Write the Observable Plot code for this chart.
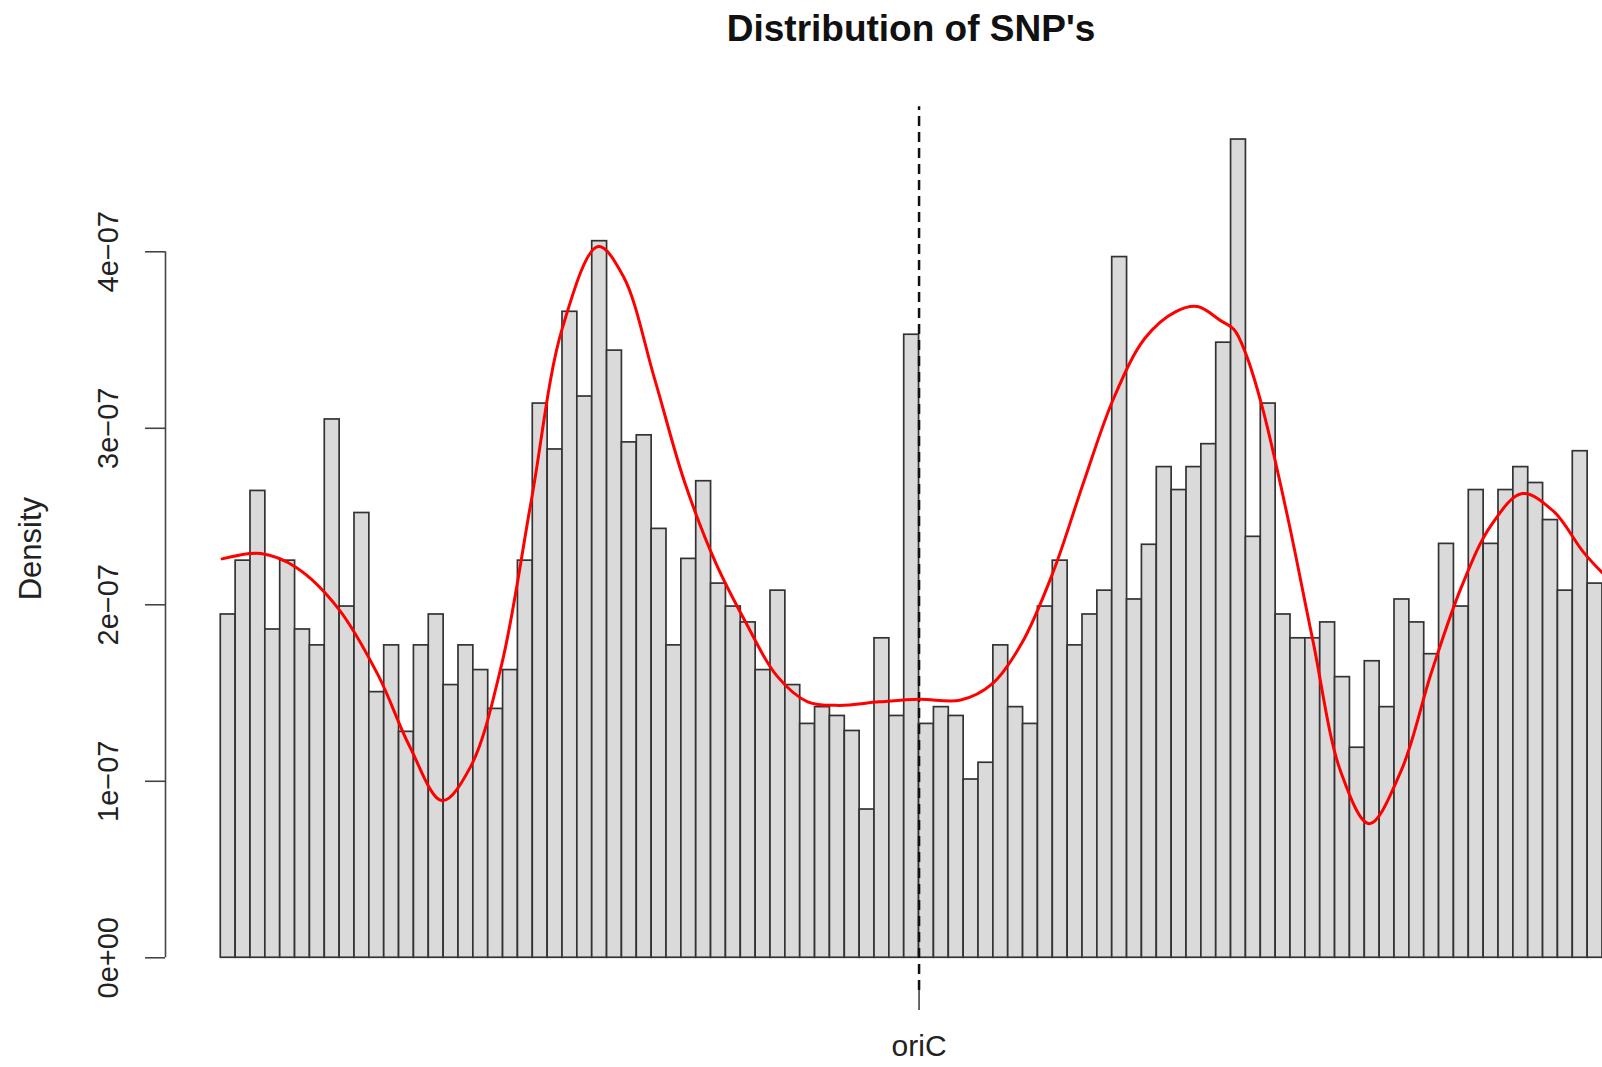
<!DOCTYPE html>
<html>
<head>
<meta charset="utf-8">
<script src="https://cdn.jsdelivr.net/npm/d3@7"></script>
<script src="https://cdn.jsdelivr.net/npm/@observablehq/plot@0.6"></script>
<style>
  html, body { margin: 0; padding: 0; background: #fff; }
  body { width: 1602px; height: 1067px; overflow: hidden; position: relative; font-family: "Liberation Sans", Arial, Helvetica, sans-serif; }
  #title { position: absolute; left: 911px; top: 11px; transform: translateX(-50%); font-weight: bold; font-size: 37px; line-height: 35px; white-space: nowrap; color: #111; }
  #chart { position: absolute; left: 0; top: 70px; }
</style>
</head>
<body>
<div id="title">Distribution of SNP's</div>
<div id="chart"></div>
<script>
// Histogram of SNP positions along the genome (50 kb bins), density scale in units of 1e-07.
const binWidth = 50000;
const binDensityE7 = [
  1.945, 2.25, 2.645, 1.86, 2.25, 1.86, 1.77, 3.05, 1.99, 2.52,
  1.505, 1.77, 1.28, 1.77, 1.945, 1.545, 1.77, 1.63, 1.41, 1.63,
  2.25, 3.14, 2.88, 3.66, 3.18, 4.06, 3.44, 2.92, 2.96, 2.43,
  1.77, 2.26, 2.70, 2.12, 1.99, 1.90, 1.63, 2.08, 1.545, 1.325,
  1.42, 1.37, 1.285, 0.84, 1.81, 1.37, 3.53, 1.325, 1.42, 1.37,
  1.01, 1.105, 1.77, 1.42, 1.325, 1.99, 2.25, 1.77, 1.945, 2.08,
  3.97, 2.03, 2.34, 2.78, 2.65, 2.78, 2.91, 3.485, 4.636, 2.385,
  3.14, 1.945, 1.81, 1.81, 1.90, 1.59, 1.19, 1.68, 1.42, 2.03,
  1.90, 1.72, 2.345, 1.99, 2.65, 2.345, 2.65, 2.78, 2.69, 2.48,
  2.08, 2.87, 2.12
];

// Kernel density estimate (red curve): position in Mb, density in 1e-07.
const kdePosMb = [
  0.0045, 0.135, 0.255, 0.395, 0.53, 0.635, 0.745, 0.84, 0.945, 1.045,
  1.15, 1.27, 1.355, 1.46, 1.56, 1.665, 1.77, 1.87, 1.975, 2.08,
  2.215, 2.35, 2.49, 2.595, 2.695, 2.80, 2.905, 3.005, 3.11, 3.2125,
  3.2875, 3.365, 3.41, 3.45, 3.505, 3.59, 3.675, 3.77, 3.865, 3.97,
  4.075, 4.175, 4.275, 4.38, 4.485, 4.585, 4.65
];
const kdeDensityE7 = [
  2.26, 2.29, 2.21, 1.98, 1.60, 1.20, 0.89, 1.08, 1.66, 2.59,
  3.57, 4.03, 3.86, 3.28, 2.70, 2.24, 1.89, 1.60, 1.45, 1.43,
  1.45, 1.465, 1.46, 1.55, 1.78, 2.18, 2.70, 3.17, 3.51, 3.66,
  3.69, 3.61, 3.56, 3.42, 3.12, 2.50, 1.80, 1.05, 0.76, 1.05,
  1.62, 2.10, 2.45, 2.63, 2.53, 2.30, 2.18
];

// Origin of replication
const oriCPos = 2350000;
const oriCLabel = "oriC";

// Y-axis ticks (density)
const yTicks = [0, 1e-7, 2e-7, 3e-7, 4e-7];
const yTickLabels = ["0e+00", "1e\u221207", "2e\u221207", "3e\u221207", "4e\u221207"];

const bins = binDensityE7.map((v, i) => ({
  x1: i * binWidth,
  x2: (i + 1) * binWidth,
  density: v * 1e-7
}));
const kde = kdePosMb.map((p, i) => ({ pos: p * 1e6, density: kdeDensityE7[i] * 1e-7 }));

const xMax = bins.length * binWidth;
const xMin = -0.04 * xMax;            // R-style 4% axis padding on the left
const yMax = d3.max(bins, d => d.density);
const yDomain = [-0.04 * yMax, 1.04 * yMax];

const chart = Plot.plot({
  width: 1602,
  height: 997,
  marginLeft: 165,
  marginRight: 0,
  marginTop: 36.3,
  marginBottom: 77,
  style: { fontFamily: "'Liberation Sans', Arial, Helvetica, sans-serif", background: "#fff", color: "#222" },
  x: { domain: [xMin, xMax] },
  y: { domain: yDomain },
  marks: [
    Plot.rect(bins, { x1: "x1", x2: "x2", y1: 0, y2: "density", fill: "#dadada", stroke: "#333", strokeWidth: 1.7 }),
    // dashed marker at oriC, drawn bottom-up across the whole plot region
    Plot.ruleX([oriCPos], { y1: yDomain[0], y2: yDomain[1], stroke: "#111", strokeWidth: 2.5, strokeDasharray: "10,6" }),
    Plot.line(kde, { x: "pos", y: "density", stroke: "#ff0000", strokeWidth: 3, curve: "catmull-rom" }),
    // y axis line spans the first to last tick, as in base R graphics
    Plot.ruleX([xMin], { y1: yTicks[0], y2: yTicks[yTicks.length - 1], stroke: "#444", strokeWidth: 1.6 }),
    Plot.axisY({
      ticks: yTicks,
      tickSize: 20,
      tickRotate: -90,
      tickPadding: 28,
      tickFormat: d => yTickLabels[yTicks.indexOf(d)],
      fontSize: 29,
      label: null,
      stroke: "#444",
      strokeWidth: 1.6
    }),
    Plot.axisX({
      ticks: [oriCPos],
      tickSize: 20,
      tickPadding: 24,
      tickFormat: () => oriCLabel,
      fontSize: 30,
      label: null,
      stroke: "#444",
      strokeWidth: 1.6
    }),
    Plot.text(["Density"], {
      frameAnchor: "left",
      y: () => (yDomain[0] + yDomain[1]) / 2,
      dx: -134,
      rotate: -90,
      textAnchor: "middle",
      fontSize: 31,
      fill: "#222"
    })
  ]
});
document.getElementById("chart").appendChild(chart);
</script>
</body>
</html>
